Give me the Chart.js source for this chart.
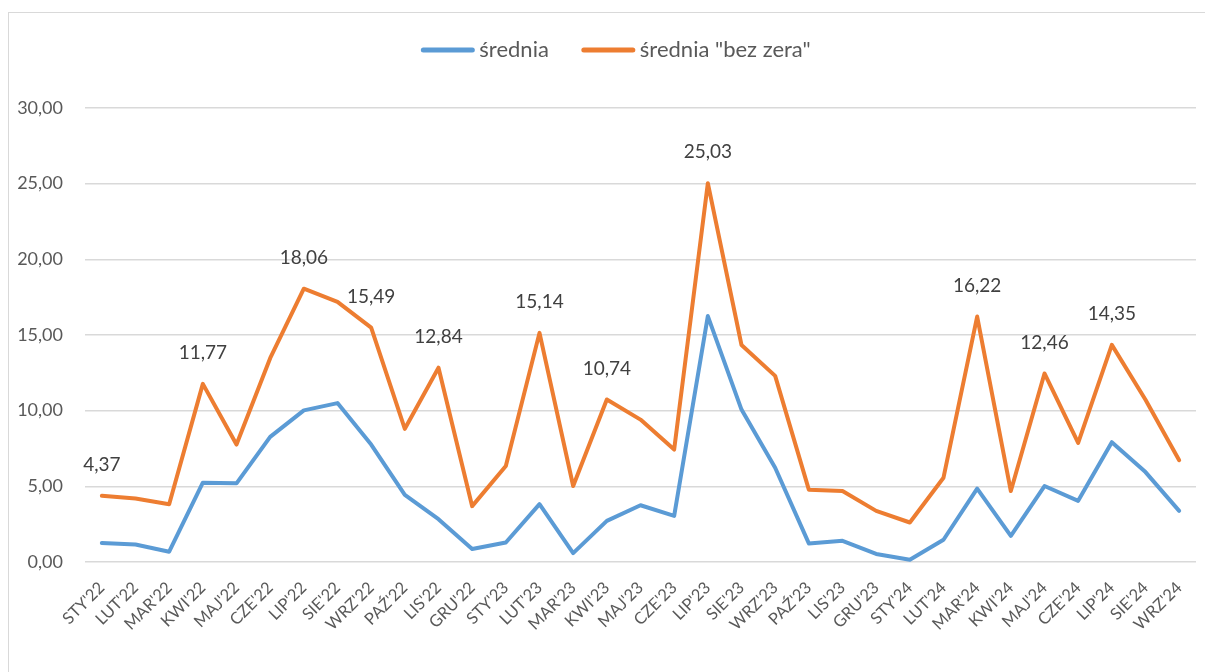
<!DOCTYPE html>
<html lang="pl">
<head>
<meta charset="utf-8">
<title>średnia</title>
<script src="https://cdn.jsdelivr.net/npm/chart.js@4.4.0/dist/chart.umd.min.js"></script>
<style>
  html, body { margin: 0; padding: 0; background: #fff; }
</style>
</head>
<body>
<canvas id="avgChart" width="1205" height="672"></canvas>
<script>
const months = [
    "STY'22", "LUT'22", "MAR'22", "KWI'22", "MAJ'22", "CZE'22", "LIP'22", "SIE'22", "WRZ'22", "PAŹ'22", "LIS'22", "GRU'22",
    "STY'23", "LUT'23", "MAR'23", "KWI'23", "MAJ'23", "CZE'23", "LIP'23", "SIE'23", "WRZ'23", "PAŹ'23", "LIS'23", "GRU'23",
    "STY'24", "LUT'24", "MAR'24", "KWI'24", "MAJ'24", "CZE'24", "LIP'24", "SIE'24", "WRZ'24"
];
const srednia = [
    1.25, 1.16, 0.68, 5.24, 5.20, 8.27, 10.02, 10.50, 7.76, 4.43, 2.83, 0.86,
    1.29, 3.82, 0.59, 2.72, 3.75, 3.05, 16.25, 10.07, 6.23, 1.23, 1.40, 0.53,
    0.15, 1.47, 4.85, 1.73, 5.02, 4.04, 7.92, 5.94, 3.38
];
const sredniaBezZera = [
    4.37, 4.19, 3.82, 11.77, 7.76, 13.47, 18.06, 17.19, 15.49, 8.80, 12.84, 3.69,
    6.34, 15.14, 5.02, 10.74, 9.41, 7.43, 25.03, 14.34, 12.30, 4.78, 4.69, 3.38,
    2.61, 5.57, 16.22, 4.69, 12.46, 7.87, 14.35, 10.72, 6.73
];
// months whose "bez zera" value gets a number above the line
const labelledMonths = ["STY'22", "KWI'22", "LIP'22", "WRZ'22", "LIS'22", "LUT'23", "KWI'23", "LIP'23", "MAR'24", "MAJ'24", "LIP'24"];
const yTicks = [0, 5, 10, 15, 20, 25, 30];

const FONT = 'Lato, "Open Sans", sans-serif';
const plN = (v) => v.toFixed(2).replace('.', ',');

// thin grey frame round the whole chart
const frame = {
    id: 'frame',
    beforeDraw(chart) {
        const ctx = chart.ctx;
        ctx.save();
        ctx.fillStyle = '#ffffff';
        ctx.fillRect(0, 0, chart.width, chart.height);
        ctx.strokeStyle = '#D9D9D9';
        ctx.lineWidth = 1;
        ctx.strokeRect(8.5, 12.5, 1400, 900);
        ctx.restore();
    }
};

// legend drawn by hand: short line + name, centred above the plot
const lineLegend = {
    id: 'lineLegend',
    afterDraw(chart) {
        const ctx = chart.ctx;
        ctx.save();
        ctx.font = '22px ' + FONT;
        ctx.textBaseline = 'middle';
        const lineLen = 53, textGap = 5, itemGap = 33, y = 50;
        const items = chart.data.datasets.map(ds => ({ text: ds.label, color: ds.borderColor, w: ctx.measureText(ds.label).width }));
        let total = items.reduce((s, it) => s + lineLen + textGap + it.w, 0) + itemGap * (items.length - 1);
        let x = 616 - total / 2;
        items.forEach(it => {
            ctx.strokeStyle = it.color;
            ctx.lineWidth = 5;
            ctx.lineCap = 'round';
            ctx.beginPath();
            ctx.moveTo(x + 2, y);
            ctx.lineTo(x + lineLen - 2, y);
            ctx.stroke();
            x += lineLen + textGap;
            ctx.fillStyle = '#595959';
            ctx.fillText(it.text, x, y);
            x += it.w + itemGap;
        });
        ctx.restore();
    }
};

// value labels over selected points of the orange series
const valueLabels = {
    id: 'valueLabels',
    afterDatasetsDraw(chart) {
        const ctx = chart.ctx;
        const xs = chart.scales.x, ys = chart.scales.y;
        ctx.save();
        ctx.font = '19px ' + FONT;
        ctx.fillStyle = '#404040';
        ctx.textAlign = 'center';
        ctx.textBaseline = 'middle';
        labelledMonths.forEach(m => {
            const i = months.indexOf(m);
            const v = sredniaBezZera[i];
            ctx.fillText(plN(v), xs.getPixelForValue(i), ys.getPixelForValue(v) - 31);
        });
        ctx.restore();
    }
};

const ctx = document.getElementById('avgChart').getContext('2d');
const avgChart = new Chart(ctx, {
    type: 'line',
    data: {
        labels: months,
        datasets: [{
            label: 'średnia',
            data: srednia,
            borderColor: '#5B9BD5',
            backgroundColor: '#5B9BD5',
            borderWidth: 4,
            pointRadius: 0,
            tension: 0,
            borderCapStyle: 'round',
            borderJoinStyle: 'round'
        }, {
            label: 'średnia "bez zera"',
            data: sredniaBezZera,
            borderColor: '#ED7D31',
            backgroundColor: '#ED7D31',
            borderWidth: 4,
            pointRadius: 0,
            tension: 0,
            borderCapStyle: 'round',
            borderJoinStyle: 'round'
        }]
    },
    options: {
        responsive: false,
        animation: false,
        devicePixelRatio: 1,
        layout: {
            padding: { top: 108, right: 9, bottom: 0, left: 0 }
        },
        scales: {
            x: {
                offset: true,
                grid: { display: false, drawTicks: false },
                border: { display: false },
                ticks: {
                    autoSkip: false,
                    maxRotation: 45,
                    minRotation: 45,
                    padding: 16,
                    color: '#595959',
                    font: { family: FONT, size: 16.5 }
                },
                afterFit: (scale) => {
                    scale.height = 110;
                    // rotated labels fit inside the frame already, no extra side room
                    scale.paddingLeft = 0;
                    scale.paddingRight = 0;
                }
            },
            y: {
                min: 0,
                max: 30,
                afterBuildTicks: (scale) => { scale.ticks = yTicks.map(v => ({ value: v })); },
                grid: { color: '#D9D9D9', lineWidth: 1.5, drawTicks: false },
                border: { display: false },
                ticks: {
                    padding: 22,
                    color: '#595959',
                    font: { family: FONT, size: 18 },
                    callback: (v) => plN(v)
                },
                afterFit: (scale) => { scale.width = 85; }
            }
        },
        plugins: {
            legend: { display: false },
            tooltip: { enabled: false }
        }
    },
    plugins: [frame, valueLabels, lineLegend]
});
</script>
</body>
</html>
